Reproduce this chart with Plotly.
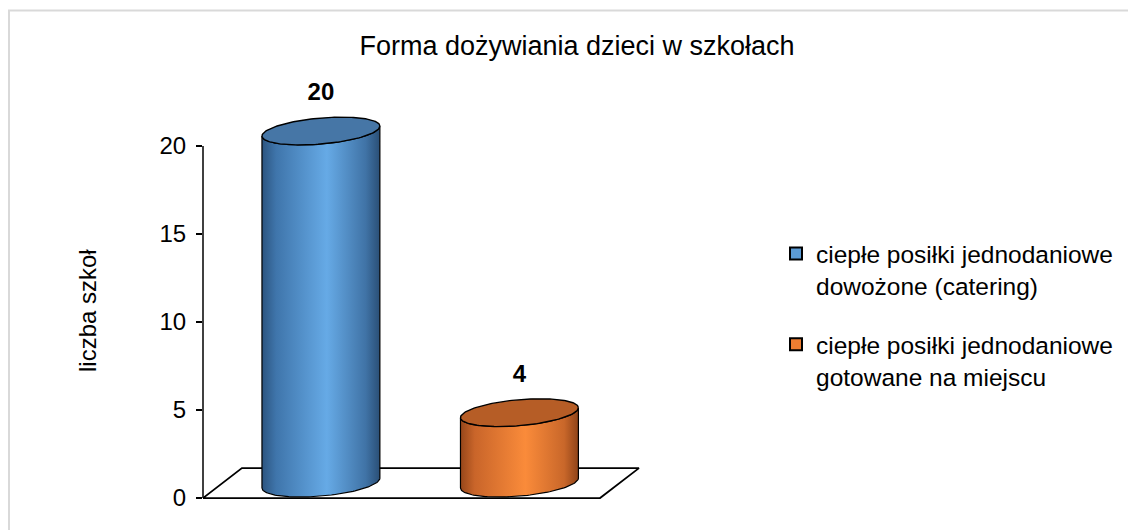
import numpy as np
import plotly.graph_objects as go

# ---------------- data ----------------
categories = [
    "ciepłe posiłki jednodaniowe<br>dowożone (catering)",
    "ciepłe posiłki jednodaniowe<br>gotowane na miejscu",
]
values = [20, 4]
tick_vals = [0, 5, 10, 15, 20]
title_text = "Forma dożywiania dzieci w szkołach"
y_title = "liczba szkoł"

# ---------------- styles ----------------
legend_colors = ["#5b9bd5", "#ed7d31"]
top_colors = ["#4676a6", "#b65d26"]
body_scales = [
    [[0, "#2c5580"], [0.12, "#3f75ab"], [0.55, "#66aae6"], [0.88, "#4073a6"], [1, "#2a4f76"]],
    [[0, "#96461a"], [0.12, "#c9652a"], [0.55, "#fa8b3a"], [0.88, "#c9672a"], [1, "#8f4318"]],
]
FONT = "Arial, 'Liberation Sans', sans-serif"

OFF = 8  # page body margin of the html page
W, H = 1136 - OFF, 530 - OFF


def fx_(px):  # reference page px -> figure px
    return px - OFF


ML, MR, MT, MB = fx_(203), W - fx_(660), fx_(80), H - fx_(510)
XR = [-0.594, 1.708]
YR = [-0.68, 23.75]

# cylinder geometry (axis units)
A = 0.297      # half width
B = 0.74       # ellipse vertical semi-axis
K = 0.28       # ellipse skew
DX, DY = 0.196, 1.70   # floor depth
MID = DY / 2
FLOOR_RIGHT = 1.406

fig = go.Figure()

# floor
flx = [XR[0], FLOOR_RIGHT, FLOOR_RIGHT + DX, XR[0] + DX, XR[0]]
fly = [0, 0, DY, DY, 0]
fig.add_trace(go.Scatter(x=flx, y=fly, mode="lines", fill="toself", fillcolor="white",
                         line=dict(color="black", width=1.8), showlegend=False, hoverinfo="skip"))


def ell(cx, cy, t):
    return cx + A * np.cos(t), cy + B * np.sin(t) + K * np.cos(t)


for i, v in enumerate(values):
    cx = i
    ctop = v + MID
    cbot = MID
    t1 = np.linspace(0, -np.pi, 80)
    t2 = np.linspace(-np.pi, 0, 80)
    x1, y1 = ell(cx, ctop, t1)
    x2, y2 = ell(cx, cbot, t2)
    bx = np.concatenate([x1, x2, x1[:1]])
    by = np.concatenate([y1, y2, y1[:1]])
    fig.add_trace(go.Scatter(x=bx, y=by, mode="lines", fill="toself",
                             fillgradient=dict(type="horizontal", colorscale=body_scales[i]),
                             line=dict(color="black", width=1.2),
                             showlegend=False, hoverinfo="skip"))
    tt = np.linspace(0, 2 * np.pi, 160)
    tx, ty = ell(cx, ctop, tt)
    fig.add_trace(go.Scatter(x=tx, y=ty, mode="lines", fill="toself", fillcolor=top_colors[i],
                             line=dict(color="black", width=1.4),
                             showlegend=False, hoverinfo="skip"))

# data labels
fig.add_trace(go.Scatter(x=list(range(len(values))), y=[v + 2.95 for v in values],
                         mode="text", text=[str(v) for v in values],
                         textfont=dict(family=FONT, size=24, color="black", weight="bold"),
                         textposition="middle center", cliponaxis=False,
                         showlegend=False, hoverinfo="skip"))

# legend entries
for i, c in enumerate(categories):
    fig.add_trace(go.Scatter(x=[None], y=[None], mode="markers", name=c,
                             legendgroup=str(i),
                             marker=dict(symbol="square", size=12, color=legend_colors[i],
                                         line=dict(color="black", width=2))))

pw = W - ML - MR
ph = H - MT - MB


def paper_x(px_ref):
    return (fx_(px_ref) - ML) / pw


def paper_y(py_ref):
    return (H - MB - fx_(py_ref)) / ph


fig.update_layout(
    width=W, height=H,
    margin=dict(l=ML, r=MR, t=MT, b=MB),
    paper_bgcolor="white", plot_bgcolor="rgba(0,0,0,0)",
    font=dict(family=FONT, color="black"),
    title=dict(text=title_text, font=dict(size=27, family=FONT, color="black"),
               x=fx_(577) / W, xref="container", xanchor="center",
               y=1 - fx_(46) / H, yref="container", yanchor="middle"),
    xaxis=dict(range=XR, visible=False, fixedrange=True),
    yaxis=dict(range=YR, tickvals=tick_vals, ticks="outside", ticklen=6, tickwidth=1.5,
               tickcolor="black", showline=False, showgrid=False, zeroline=False,
               tickfont=dict(size=24, family=FONT, color="black"),
               ticklabelstandoff=5, fixedrange=True),
    legend=dict(x=paper_x(776), y=paper_y(231), xanchor="left", yanchor="top",
                font=dict(size=24.5, family=FONT, color="black"), valign="top",
                tracegroupgap=24, bgcolor="rgba(0,0,0,0)", itemsizing="constant"),
    showlegend=True,
    shapes=[
        dict(type="line", xref="paper", yref="y", x0=0, x1=0, y0=0, y1=max(tick_vals),
             line=dict(color="black", width=1.5)),
        dict(type="rect", xref="paper", yref="paper", layer="below",
             x0=(1 - ML) / pw, x1=(W + 20 - ML) / pw,
             y0=-0.2, y1=paper_y(10.5),
             line=dict(color="#d9d9d9", width=2), fillcolor="rgba(0,0,0,0)"),
    ],
    annotations=[
        dict(text=y_title, textangle=-90, xref="paper", yref="y",
             x=paper_x(87), y=(498 - 311) / 17.6, xanchor="center", yanchor="middle",
             showarrow=False, font=dict(size=24, family=FONT, color="black")),
    ],
)

fig.write_html("out.html")
